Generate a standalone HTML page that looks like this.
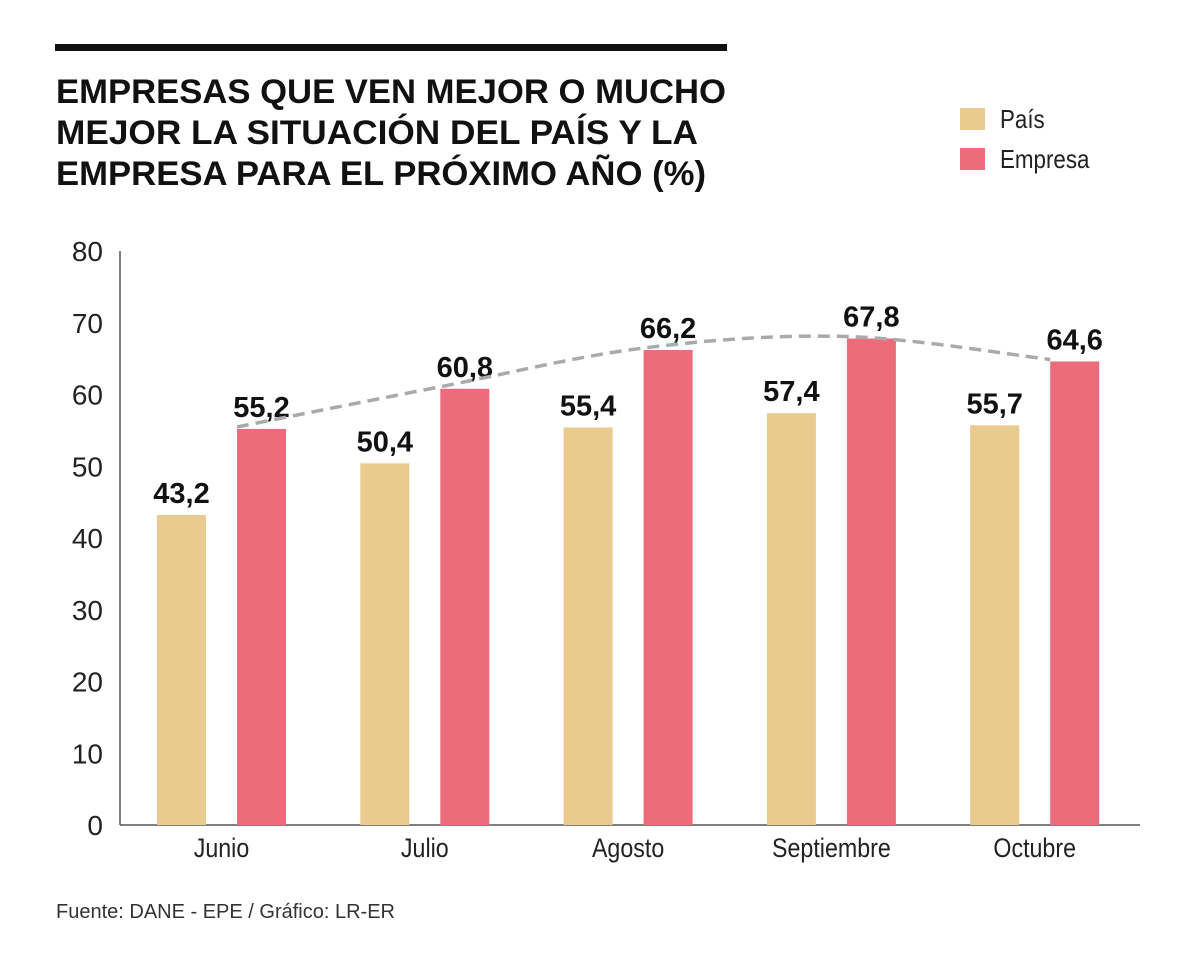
<!DOCTYPE html>
<html><head><meta charset="utf-8"><style>
html,body{margin:0;padding:0;background:#fff;}
svg{display:block;font-family:"Liberation Sans Narrow","Liberation Sans",sans-serif;}
</style></head><body>
<svg id="chart" width="1200" height="966" viewBox="0 0 1200 966" xmlns="http://www.w3.org/2000/svg">
<rect x="55" y="44" width="672" height="7" fill="#111"/>
<g font-family="Liberation Sans, sans-serif" font-weight="bold" font-size="34" fill="#111">
<text x="56" y="103" textLength="670" lengthAdjust="spacingAndGlyphs">EMPRESAS QUE VEN MEJOR O MUCHO</text>
<text x="56" y="144" textLength="642" lengthAdjust="spacingAndGlyphs">MEJOR LA SITUACIÓN DEL PAÍS Y LA</text>
<text x="56" y="185" textLength="650" lengthAdjust="spacingAndGlyphs">EMPRESA PARA EL PRÓXIMO AÑO (%)</text>
</g>
<g>
<rect x="960" y="108" width="25" height="22" fill="#E9CA8F"/>
<text class="narrow" x="1000" y="128" font-size="26" fill="#222">País</text>
<rect x="960" y="148" width="25" height="22" fill="#EC6C7C"/>
<text class="narrow" x="1000" y="168" font-size="26" fill="#222">Empresa</text>
</g>
<g id="plot"></g>
<text x="56" y="918" font-size="20" fill="#333" font-family="Liberation Sans, sans-serif">Fuente: DANE - EPE / Gráfico: LR-ER</text>
</svg>
<script>
const categories = ["Junio","Julio","Agosto","Septiembre","Octubre"];
const paisValues = [43.2,50.4,55.4,57.4,55.7];
const empresaValues = [55.2,60.8,66.2,67.8,64.6];
const paisLabels = ["43,2","50,4","55,4","57,4","55,7"];
const empresaLabels = ["55,2","60,8","66,2","67,8","64,6"];
const yTicks = [0,10,20,30,40,50,60,70,80];

const NS="http://www.w3.org/2000/svg";
const g=document.getElementById('plot');
const y0=825, yTop=251, yMax=80;
const y=v=>y0-(v/yMax)*(y0-yTop);
const groupStart=157, groupStep=203.3, barW=49, gap=31;
const xP=i=>groupStart+i*groupStep;
const xE=i=>xP(i)+barW+gap;
function mk(tag,attrs){const e=document.createElementNS(NS,tag);for(const k in attrs)e.setAttribute(k,attrs[k]);g.appendChild(e);return e;}

yTicks.forEach(t=>{
  const e=mk('text',{x:103,y:y(t)+10,'text-anchor':'end','font-size':28,fill:'#222'});
  
  
  e.textContent=t;
});
let ax=mk('line',{x1:120,y1:y0,x2:1140,y2:y0,stroke:'#555','stroke-width':1.5});


let ay=mk('line',{x1:120,y1:yTop,x2:120,y2:y0,stroke:'#555','stroke-width':1.5});



categories.forEach((c,i)=>{
  const b1=mk('rect',{x:xP(i),y:y(paisValues[i]),width:barW,height:y0-y(paisValues[i]),fill:'#E9CA8F'});
  
  
  const b2=mk('rect',{x:xE(i),y:y(empresaValues[i]),width:barW,height:y0-y(empresaValues[i]),fill:'#EC6C7C'});
  
  
  const l1=mk('text',{x:xP(i)+barW/2,y:y(paisValues[i])-12,'text-anchor':'middle','font-size':29,'font-weight':'bold',fill:'#111','font-family':'Liberation Sans, sans-serif'});
  
  
  l1.textContent=paisLabels[i];
  const l2=mk('text',{x:xE(i)+barW/2,y:y(empresaValues[i])-12,'text-anchor':'middle','font-size':29,'font-weight':'bold',fill:'#111','font-family':'Liberation Sans, sans-serif'});
  
  
  l2.textContent=empresaLabels[i];
  const cl=mk('text',{x:(xP(i)+xE(i)+barW)/2,y:857,'text-anchor':'middle','font-size':27,fill:'#222'});
  cl.setAttribute('class','narrow');
  
  
  cl.textContent=c;
});

// dashed trend curve through empresa bar tops (catmull-rom)
const pts=empresaValues.map((v,i)=>[xE(i),y(v)-2]);
let d='M'+pts[0][0]+','+pts[0][1];
for(let i=0;i<pts.length-1;i++){
  const p0=pts[Math.max(0,i-1)],p1=pts[i],p2=pts[i+1],p3=pts[Math.min(pts.length-1,i+2)];
  const c1=[p1[0]+(p2[0]-p0[0])/6,p1[1]+(p2[1]-p0[1])/6];
  const c2=[p2[0]-(p3[0]-p1[0])/6,p2[1]-(p3[1]-p1[1])/6];
  d+=' C'+c1+' '+c2+' '+p2;
}
const tr=mk('path',{d:d,fill:'none',stroke:'#aaa','stroke-width':3.5,'stroke-dasharray':'12 7'});



document.querySelectorAll('text.narrow').forEach(t=>{
  const w=t.getComputedTextLength();
  t.setAttribute('textLength',(w*0.86).toFixed(1));
  t.setAttribute('lengthAdjust','spacingAndGlyphs');
});
</script>
</body></html>
